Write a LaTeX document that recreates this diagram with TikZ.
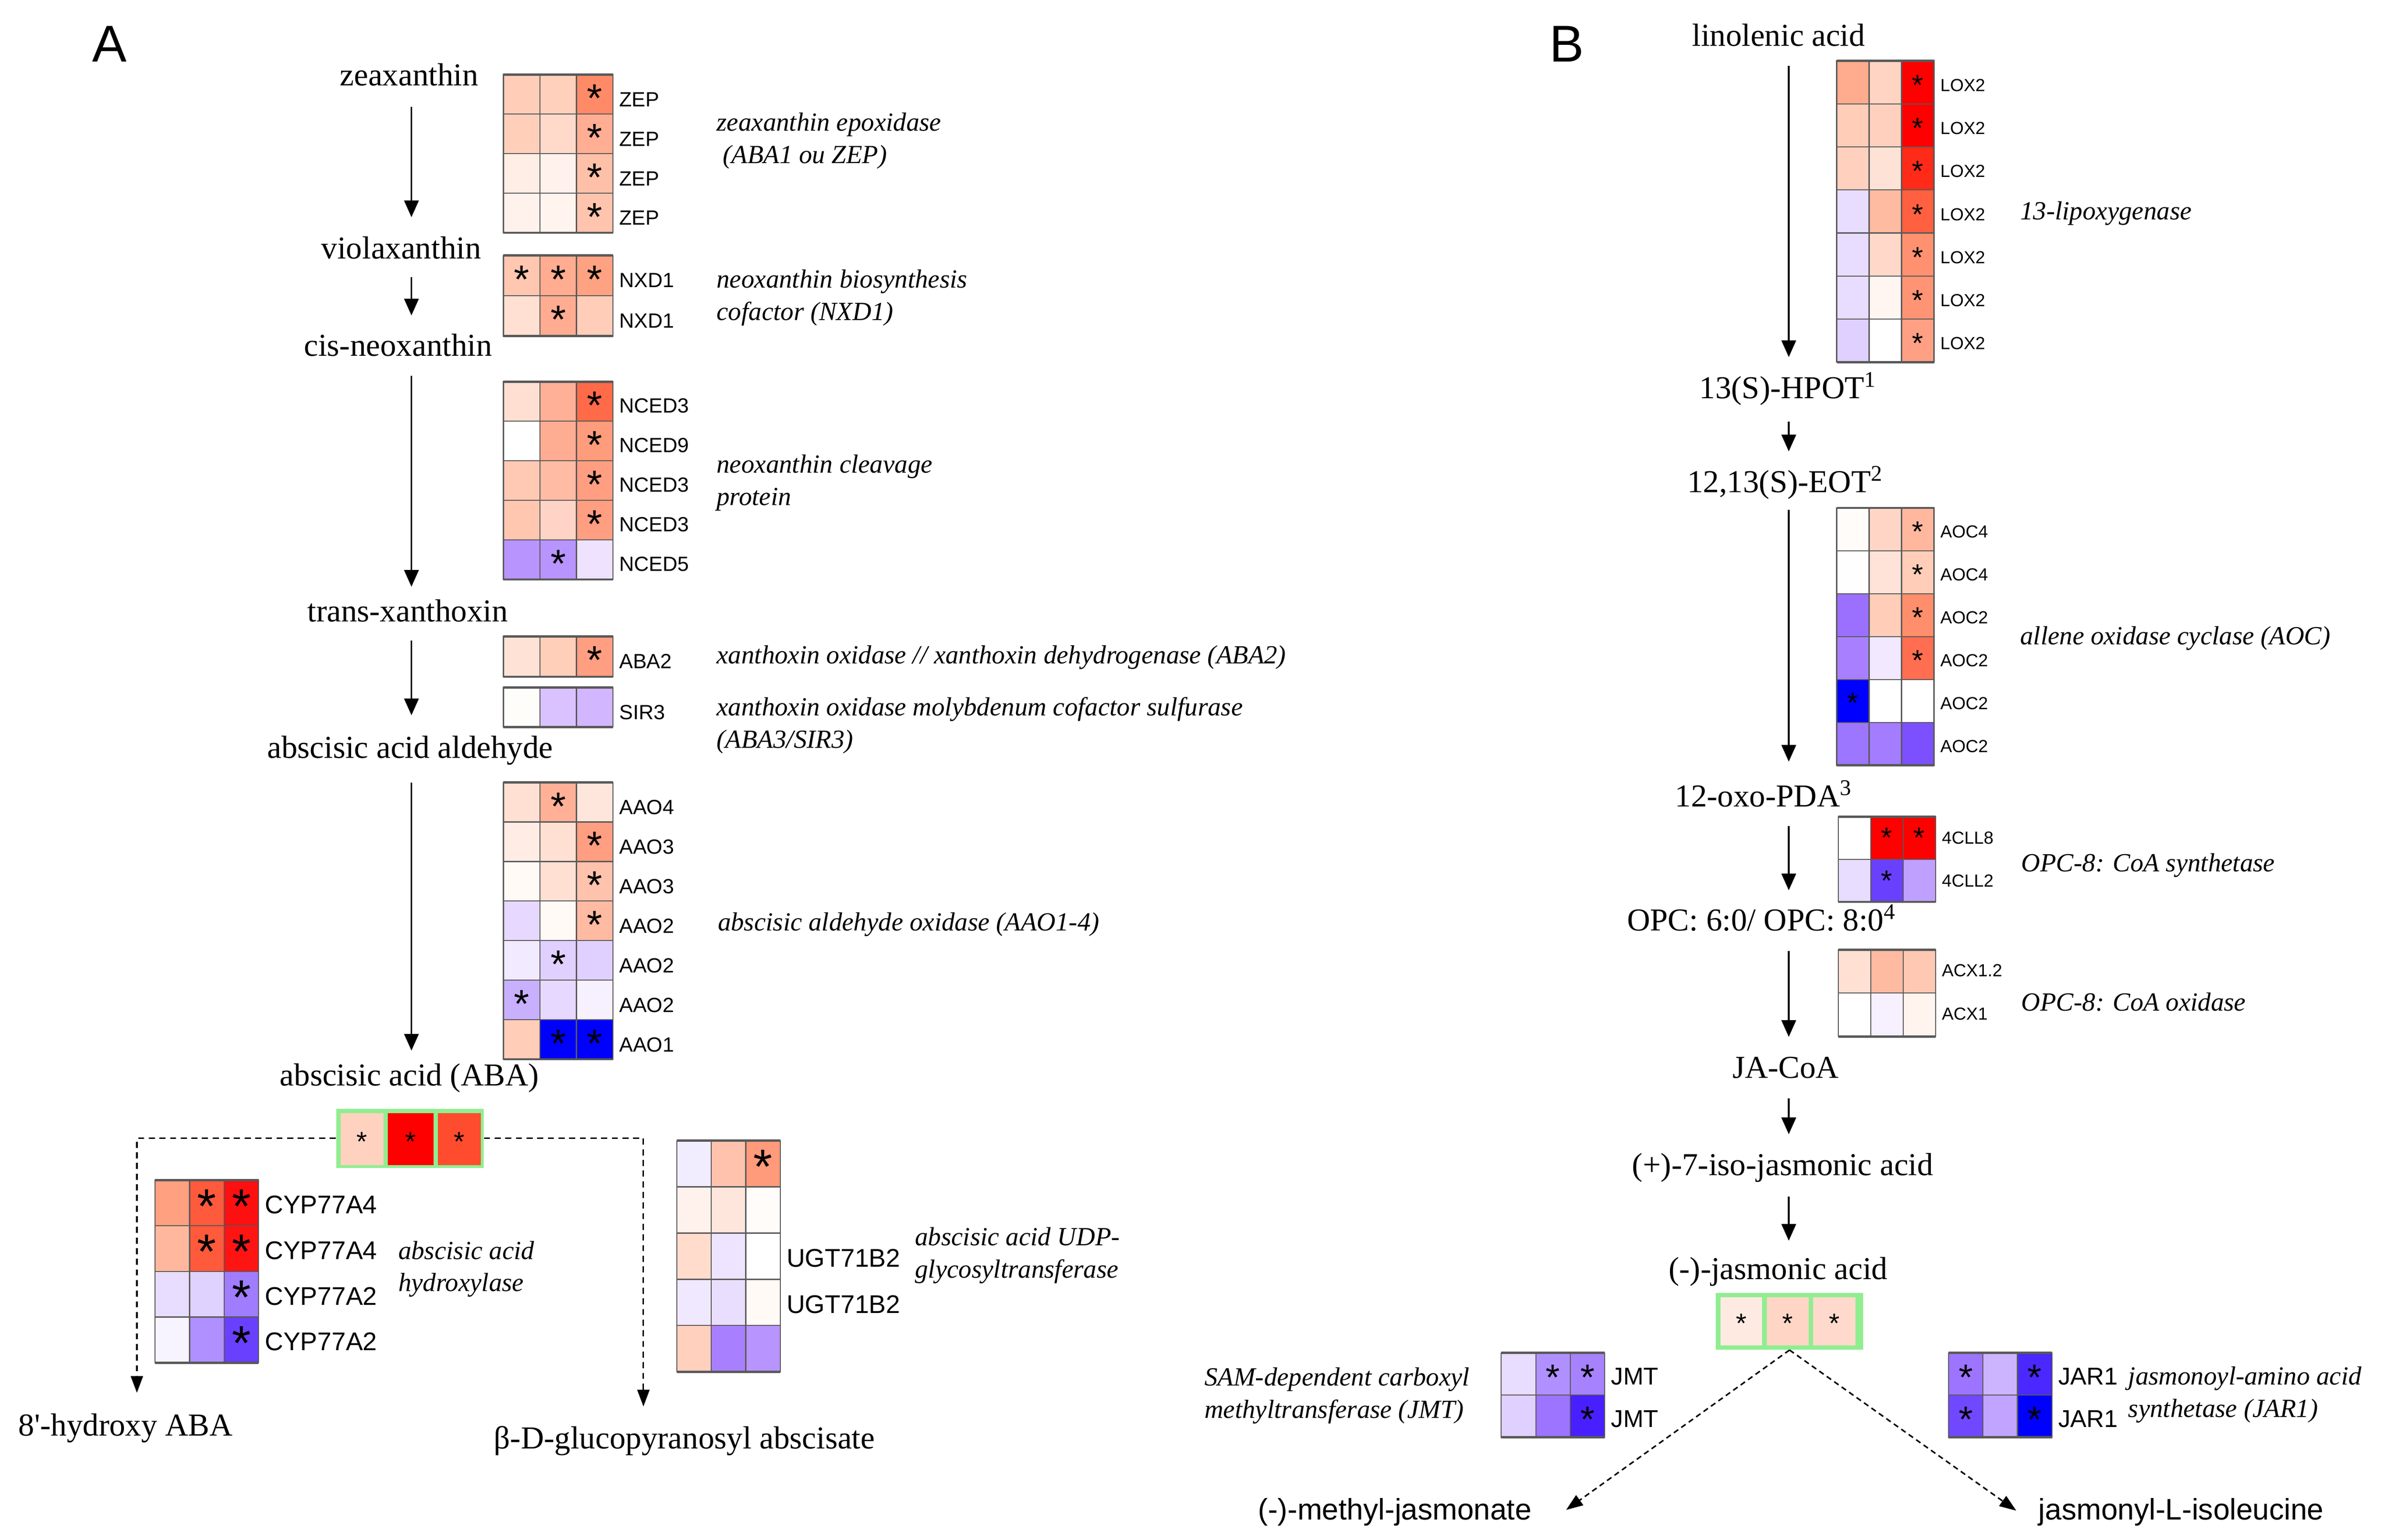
\documentclass[tikz,border=0pt]{standalone}
\usepackage{fontspec}
\setmainfont{Liberation Serif}
\newfontfamily\sansf{Liberation Sans}
\usetikzlibrary{arrows.meta}
\definecolor{gridc}{HTML}{595959}
\definecolor{gboxc}{HTML}{90EE90}
\newcommand\setfs[1]{\fontsize{#1}{#1}\selectfont}
\newcommand\hmsetup[7]{\def\hmx{#1}\def\hmy{#2}\def\hmw{#3}\def\hmh{#4}\def\hmsy{#5}\def\hmsf{#6}\def\hmlo{#7}}
\newcommand\hmstarfont{\sansf\fontsize{\hmsf}{\hmsf}\selectfont}
\newcommand\hmrow[9]{%
  \definecolor{hcA}{HTML}{#2}\definecolor{hcB}{HTML}{#4}\definecolor{hcC}{HTML}{#6}%
  \fill[hcA] (\hmx,{\hmy+#1*\hmh}) rectangle ++(\hmw,\hmh);
  \fill[hcB] ({\hmx+\hmw},{\hmy+#1*\hmh}) rectangle ++(\hmw,\hmh);
  \fill[hcC] ({\hmx+2*\hmw},{\hmy+#1*\hmh}) rectangle ++(\hmw,\hmh);
  \draw[hgrid] (\hmx,{\hmy+#1*\hmh}) rectangle ++(\hmw,\hmh)
     ({\hmx+\hmw},{\hmy+#1*\hmh}) rectangle ++(\hmw,\hmh)
     ({\hmx+2*\hmw},{\hmy+#1*\hmh}) rectangle ++(\hmw,\hmh);
  \node[hstar] at ({\hmx+0.5*\hmw},{\hmy+#1*\hmh+\hmsy+0.58*\hmsf}) {#3};
  \node[hstar] at ({\hmx+1.5*\hmw},{\hmy+#1*\hmh+\hmsy+0.58*\hmsf}) {#5};
  \node[hstar] at ({\hmx+2.5*\hmw},{\hmy+#1*\hmh+\hmsy+0.58*\hmsf}) {#7};
  \node[glab] (#8) at ({\hmx+3*\hmw+4},{\hmy+#1*\hmh+\hmlo}) {#9};
}
\newcommand\hmframe[1]{\draw[hout] (\hmx,\hmy) -- ++({3*\hmw},0) (\hmx,{\hmy+#1*\hmh}) -- ++({3*\hmw},0);}
\newcommand\gcell[7]{\definecolor{hcA}{HTML}{#5}\fill[hcA] (#1,#2) rectangle ++(#3,#4);
  \node[gstar] at ({#1+0.5*#3},#7) {#6};}
\newcommand\hmlf{\sansf\setfs{13.5}}

\begin{document}
\begin{tikzpicture}[x=1pt,y=-1pt,
  pname/.style={font=\setfs{21}, inner sep=0pt, text height=15pt, text depth=5pt, anchor=base},
  sname/.style={font=\sansf\setfs{19.5}, inner sep=0pt, text height=15pt, text depth=5pt, anchor=base},
  desc/.style={font=\itshape\fontsize{17.2}{21.3}\selectfont, inner sep=0pt, align=left, anchor=base west},
  hgrid/.style={draw=gridc, line width=0.7pt},
  hout/.style={draw=gridc, line width=1.5pt},
  hstar/.style={font=\hmstarfont, inner sep=0pt, anchor=base},
  gstar/.style={font=\sansf\setfs{18}, inner sep=0pt, anchor=base},
  glab/.style={anchor=base west, inner sep=0pt, font=\hmlf},
  gbox/.style={fill=gboxc, draw=none, inner sep=0pt},
  arr/.style={line width=1.2pt, -{Triangle[length=11pt,width=9.5pt]}},
  darr/.style={line width=1pt, dash pattern=on 4pt off 3pt, -{Triangle[length=11pt,width=8pt]}},
  panel/.style={font=\sansf\setfs{34}, inner sep=0pt, anchor=base}]
\useasboundingbox (0,0) rectangle (1568,1012.3);

% ---------------- Panel A ----------------
\node[panel] (labA) at (72,40.5) {A};
\node[pname] (zea) at (269,56.4) {zeaxanthin};
\node[pname] (viola) at (263.8,170) {violaxanthin};
\node[pname] (cis) at (261.7,234) {cis-neoxanthin};
\node[pname] (trans) at (268,408.8) {trans-xanthoxin};
\node[pname] (ald) at (269.7,498.4) {abscisic acid aldehyde};
\node[pname] (aba) at (269.2,714) {abscisic acid (ABA)};
\node[pname] (hyd) at (82.6,944) {8{\addfontfeatures{Ligatures=TeXOff}'}-hydroxy ABA};
\node[pname] (glu) at (450,952.6) {β-D-glucopyranosyl abscisate};

\coordinate (axA) at (270.5,0);
\draw[arr, shorten <=8.5pt, shorten >=12pt] (zea.south -| axA) -- (viola.north -| axA);
\draw[arr, shorten <=7pt, shorten >=11.4pt] (viola.south -| axA) -- (cis.north -| axA);
\draw[arr, shorten <=8pt, shorten >=7.8pt] (cis.south -| axA) -- (trans.north -| axA);
\draw[arr, shorten <=7.2pt, shorten >=12.9pt] (trans.south -| axA) -- (ald.north -| axA);
\draw[arr, shorten <=11pt, shorten >=8pt] (ald.south -| axA) -- (aba.north -| axA);

% ZEP
\hmsetup{331}{49}{24}{26}{9.5}{26}{21}
\hmrow{0}{FFCDB8}{}{FFD0BC}{}{FF8A68}{*}{gZ1}{ZEP}
\hmrow{1}{FFCFBA}{}{FFD9CA}{}{FFAE94}{*}{gZ2}{ZEP}
\hmrow{2}{FFEEE6}{}{FFF2EC}{}{FFC0A8}{*}{gZ3}{ZEP}
\hmrow{3}{FFF2EC}{}{FFF4EE}{}{FFC4AE}{*}{gZ4}{ZEP}
\hmframe{4}
% NXD1
\hmsetup{331}{168}{24}{26.5}{9.5}{26}{21}
\hmrow{0}{FFC6B0}{*}{FFAC90}{*}{FFA282}{*}{gN1}{NXD1}
\hmrow{1}{FFE0D2}{}{FFAC90}{*}{FFCDB8}{}{gN2}{NXD1}
\hmframe{2}
% NCED
\hmsetup{331}{251}{24}{26}{9.5}{26}{20.5}
\hmrow{0}{FFDFD2}{}{FFB096}{}{FF6A48}{*}{gC1}{NCED3}
\hmrow{1}{FFFFFF}{}{FFAD92}{}{FF9C7C}{*}{gC2}{NCED9}
\hmrow{2}{FFC9B4}{}{FFBBA3}{}{FF9E80}{*}{gC3}{NCED3}
\hmrow{3}{FFC6B0}{}{FFD4C6}{}{FF9E80}{*}{gC4}{NCED3}
\hmrow{4}{B894FF}{}{B894FF}{*}{EEE2FF}{}{gC5}{NCED5}
\hmframe{5}
% ABA2
\hmsetup{331}{418.5}{24}{26.5}{9.5}{26}{21}
\hmrow{0}{FFE2D6}{}{FFCFBA}{}{FF9E80}{*}{gA2}{ABA2}
\hmframe{1}
% SIR3
\hmsetup{331}{452}{24}{26}{9.5}{26}{21}
\hmrow{0}{FFFDFA}{}{D9C2FF}{}{D2B6FF}{}{gS3}{SIR3}
\hmframe{1}
% AAO
\hmsetup{331}{514.5}{24}{26}{9.5}{26}{21}
\hmrow{0}{FFE0D2}{}{FFB096}{*}{FFE6DC}{}{gO1}{AAO4}
\hmrow{1}{FFECE4}{}{FFE0D2}{}{FF9E80}{*}{gO2}{AAO3}
\hmrow{2}{FFFAF6}{}{FFE0D2}{}{FFC2AC}{*}{gO3}{AAO3}
\hmrow{3}{E6D8FF}{}{FFFAF6}{}{FFBAA2}{*}{gO4}{AAO2}
\hmrow{4}{F2EAFF}{}{E0D0FF}{*}{E0D0FF}{}{gO5}{AAO2}
\hmrow{5}{C8B0FF}{*}{E6D8FF}{}{F6F0FF}{}{gO6}{AAO2}
\hmrow{6}{FFCDB8}{}{0000FF}{*}{0000FF}{*}{gO7}{AAO1}
\hmframe{7}

\node[desc] (dZEP) at (471,107.4) {zeaxanthin epoxidase\\\hspace*{4pt}(ABA1 ou ZEP)};
\node[desc] (dNXD) at (471,210.5) {neoxanthin biosynthesis\\cofactor (NXD1)};
\node[desc] (dNCED) at (471,332.3) {neoxanthin cleavage\\protein};
\node[desc] (dABA2) at (471,436.5) {xanthoxin oxidase // xanthoxin dehydrogenase (ABA2)};
\node[desc] (dSIR) at (471,491.9) {xanthoxin oxidase molybdenum cofactor sulfurase\\(ABA3/SIR3)};
\node[desc] (dAAO) at (471.8,612) {abscisic aldehyde oxidase (AAO1-4)};

% ABA green box
\node[gbox, minimum width=97pt, minimum height=39pt] (abaBox) at (269.5,748.5) {};
\gcell{224}{732}{28}{34}{FFD2C0}{*}{757}
\gcell{255}{732}{30}{34}{FF0000}{*}{757}
\gcell{288}{732}{28}{34}{FF4C2E}{*}{757}

\draw[darr, shorten >=13pt] (abaBox.west) -| ([xshift=7.4pt]hyd.north);
\draw[darr, shorten >=12.6pt] (abaBox.east) -| ([xshift=-27pt]glu.north);

% CYP77A
\renewcommand\hmlf{\sansf\setfs{16.8}}
\hmsetup{102}{776}{22.67}{30}{9.5}{32}{22}
\hmrow{0}{FFA080}{}{FF5A3C}{*}{FF1010}{*}{gY1}{CYP77A4}
\hmrow{1}{FFB89E}{}{FF5A3C}{*}{FF1414}{*}{gY2}{CYP77A4}
\hmrow{2}{E8DCFF}{}{E0D2FF}{}{A07CFF}{*}{gY3}{CYP77A2}
\hmrow{3}{F8F4FF}{}{B090FF}{}{6A40FF}{*}{gY4}{CYP77A2}
\hmframe{4}
% UGT
\hmsetup{445}{750}{22.67}{30.4}{9.5}{32}{22.3}
\hmrow{0}{F2ECFF}{}{FFC2AC}{}{FF9A7A}{*}{gU1}{}
\hmrow{1}{FFF2EC}{}{FFE6DC}{}{FFFCFA}{}{gU2}{}
\hmrow{2}{FFDCCC}{}{EEE4FF}{}{FFFFFF}{}{gU3}{UGT71B2}
\hmrow{3}{F0E8FF}{}{EADEFF}{}{FFFAF6}{}{gU4}{UGT71B2}
\hmrow{4}{FFD0BE}{}{A880FF}{}{B894FF}{}{gU5}{}
\hmframe{5}

\node[desc] (dCYP) at (261.7,849.2) {abscisic acid\\hydroxylase};
\node[desc] (dUGT) at (601.4,840.3) {abscisic acid UDP-\\glycosyltransferase};

% ---------------- Panel B ----------------
\node[panel] (labB) at (1030,40.5) {B};
\node[pname] (lin) at (1169.3,30.4) {linolenic acid};
\node[pname, anchor=base west] (hpot) at (1117,262) {13(S)-HPOT\textsuperscript{1}};
\node[pname, anchor=base west] (eot) at (1109,323.8) {12,13(S)-EOT\textsuperscript{2}};
\node[pname, anchor=base west] (pda) at (1101,530.5) {12-oxo-PDA\textsuperscript{3}};
\node[pname, anchor=base west] (opc) at (1069.6,612) {OPC: 6:0/ OPC: 8:0\textsuperscript{4}};
\node[pname] (jacoa) at (1174,708.8) {JA-CoA};
\node[pname] (iso) at (1172,772.7) {(+)-7-iso-jasmonic acid};
\node[pname] (ja) at (1169,841.3) {(-)-jasmonic acid};
\node[sname] (mj) at (917,999.4) {(-)-methyl-jasmonate};
\node[sname] (jl) at (1434,999.4) {jasmonyl-L-isoleucine};

\coordinate (axB) at (1176,0);
\draw[arr, shorten <=7.6pt, shorten >=12pt] (lin.south -| axB) -- (hpot.north -| axB);
\draw[arr, shorten <=10pt, shorten >=11.8pt] (hpot.south -| axB) -- (eot.north -| axB);
\draw[arr, shorten <=6.2pt, shorten >=14.5pt] (eot.south -| axB) -- (pda.north -| axB);
\draw[arr, shorten <=7.5pt, shorten >=11.4pt] (pda.south -| axB) -- (opc.north -| axB);
\draw[arr, shorten <=8pt, shorten >=11.8pt] (opc.south -| axB) -- (jacoa.north -| axB);
\draw[arr, shorten <=8.2pt, shorten >=11.7pt] (jacoa.south -| axB) -- (iso.north -| axB);
\draw[arr, shorten <=8.8pt, shorten >=10.3pt] (iso.south -| axB) -- (ja.north -| axB);

\renewcommand\hmlf{\sansf\setfs{11.5}}
% LOX
\hmsetup{1207.5}{40}{21.33}{28.3}{11.5}{19}{20}
\hmrow{0}{FFAB8E}{}{FFD4C2}{}{FF0000}{*}{gL1}{LOX2}
\hmrow{1}{FFCDB8}{}{FFD0BE}{}{FF0000}{*}{gL2}{LOX2}
\hmrow{2}{FFD0BE}{}{FFE2D6}{}{FF2A18}{*}{gL3}{LOX2}
\hmrow{3}{E8DCFF}{}{FFBAA2}{}{FF6040}{*}{gL4}{LOX2}
\hmrow{4}{E8DCFF}{}{FFD8CA}{}{FF9070}{*}{gL5}{LOX2}
\hmrow{5}{E8DCFF}{}{FFF6F2}{}{FF9474}{*}{gL6}{LOX2}
\hmrow{6}{E0D0FF}{}{FFFFFF}{}{FFA084}{*}{gL7}{LOX2}
\hmframe{7}
% AOC
\hmsetup{1207.5}{334}{21.33}{28.2}{11}{19}{19.7}
\hmrow{0}{FFFCFA}{}{FFD6C6}{}{FFB89E}{*}{gK1}{AOC4}
\hmrow{1}{FFFEFE}{}{FFE2D8}{}{FFCDB8}{*}{gK2}{AOC4}
\hmrow{2}{9C70FF}{}{FFCDB8}{}{FF8E6C}{*}{gK3}{AOC2}
\hmrow{3}{A880FF}{}{F2E8FF}{}{FF6E50}{*}{gK4}{AOC2}
\hmrow{4}{0000FF}{*}{FFFFFF}{}{FFFFFF}{}{gK5}{AOC2}
\hmrow{5}{9C76FF}{}{A47CFF}{}{7C50FF}{}{gK6}{AOC2}
\hmframe{6}
% 4CLL
\hmsetup{1208.5}{537}{21.33}{28}{9.5}{19}{18}
\hmrow{0}{FFFFFF}{}{FF0000}{*}{FF0000}{*}{gF1}{4CLL8}
\hmrow{1}{E8DCFF}{}{6A40FF}{*}{C0A0FF}{}{gF2}{4CLL2}
\hmframe{2}
% ACX
\hmsetup{1208.5}{624.5}{21.33}{28.5}{10}{19}{17.5}
\hmrow{0}{FFE0D2}{}{FFBAA2}{}{FFC8B2}{}{gX1}{ACX1.2}
\hmrow{1}{FFFFFF}{}{F6F0FF}{}{FFF4EE}{}{gX2}{ACX1}
\hmframe{2}

\node[desc] (dLOX) at (1328,144.5) {13-lipoxygenase};
\node[desc] (dAOC) at (1328,423.8) {allene oxidase cyclase (AOC)};
\node[desc] (dCLL) at (1328.7,573) {OPC-8: CoA synthetase};
\node[desc] (dACX) at (1328.7,664.8) {OPC-8: CoA oxidase};

% JA green box
\node[gbox, minimum width=97pt, minimum height=37.5pt] (jaBox) at (1176.5,868.75) {};
\gcell{1131}{853}{27.5}{31.5}{FFEAE2}{*}{876.4}
\gcell{1161.5}{853}{27.5}{31.5}{FFD6C6}{*}{876.4}
\gcell{1192}{853}{28}{31.5}{FFDACC}{*}{876.4}

\draw[darr, dash pattern=on 3.5pt off 2.5pt] (jaBox.south) -- ([xshift=22.5pt,yshift=-8.6pt]mj.north east);
\draw[darr, dash pattern=on 3.5pt off 2.5pt] (jaBox.south) -- ([xshift=-14.5pt,yshift=-9.1pt]jl.north west);

% JMT / JAR1
\renewcommand\hmlf{\sansf\setfs{16}}
\hmsetup{987}{889.6}{22.67}{27.7}{10.5}{24}{21}
\hmrow{0}{E8DCFF}{}{B090FF}{*}{A682FF}{*}{gJ1}{JMT}
\hmrow{1}{E0D0FF}{}{9C74FF}{}{4820FF}{*}{gJ2}{JMT}
\hmframe{2}
\hmsetup{1281}{889.6}{22.67}{27.7}{10.5}{24}{21}
\hmrow{0}{9C74FF}{*}{CCB4FF}{}{4A28FF}{*}{gR1}{JAR1}
\hmrow{1}{7048FF}{*}{C0A4FF}{}{0000FF}{*}{gR2}{JAR1}
\hmframe{2}

\node[desc] (dJMT) at (791.7,932.6) {SAM-dependent carboxyl\\methyltransferase (JMT)};
\node[desc] (dJAR) at (1399,931.7) {jasmonoyl-amino acid\\synthetase (JAR1)};
\end{tikzpicture}
\end{document}
